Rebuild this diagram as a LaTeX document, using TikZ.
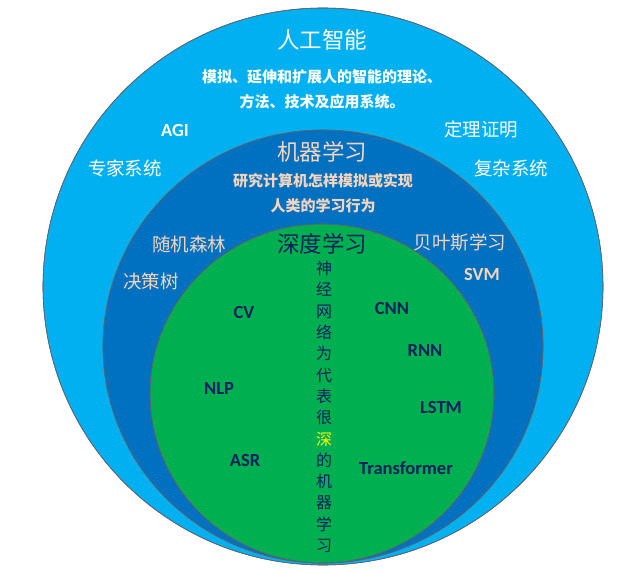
\documentclass[tikz,border=0pt]{standalone}
\usepackage{fontspec}
\setmainfont{Carlito}
\newfontfamily\cjk{Noto Sans CJK SC}
\definecolor{aicolor}{HTML}{00B0F0}
\definecolor{mlcolor}{HTML}{0070C0}
\definecolor{dlcolor}{HTML}{00B050}
\definecolor{mlink}{HTML}{F6D5BE}
\definecolor{dlink}{HTML}{002060}
\definecolor{rimcolor}{HTML}{5A6470}
\newcommand{\cjksize}[2]{\cjk\fontsize{#1}{#2}\selectfont}

\begin{document}
\begin{tikzpicture}[
    x=1pt, y=-1pt,
    disc/.style={draw=rimcolor, line width=0.6pt},
    title/.style={inner sep=0pt, font=\cjksize{22.5}{24}},
    desc/.style={inner sep=0pt, font=\cjksize{15}{17}\bfseries},
    item/.style={inner sep=0pt, font=\cjksize{18.5}{20}},
    term/.style={inner sep=0pt, font=\bfseries\fontsize{18.5}{20}\selectfont},
    aitext/.style={text=white},
    mltext/.style={text=mlink},
    dltext/.style={text=dlink}
]
\useasboundingbox[fill=white] (0,0) rectangle (633,570);

% Nested sets (outer to inner)
\fill[disc, fill=aicolor] (323,286.5) ellipse [x radius=280pt, y radius=278.5pt];
\fill[disc, fill=mlcolor] (323,346.5) ellipse [x radius=220pt, y radius=216.5pt];
\fill[disc, fill=dlcolor] (322,393.5) ellipse [x radius=172pt, y radius=169.5pt];
\draw[disc] (323,286.5) ellipse [x radius=280pt, y radius=278.5pt];
\draw[disc] (323,346.5) ellipse [x radius=220pt, y radius=216.5pt];
\draw[disc] (322,393.5) ellipse [x radius=172pt, y radius=169.5pt];

% Artificial intelligence
\node[title, aitext] (ai) at (322,40) {人工智能};
\node[desc, aitext] (aidesc1) at (322,77) {模拟、延伸和扩展人的智能的理论、};
\node[desc, aitext] (aidesc2) at (322,102) {方法、技术及应用系统。};
\node[term, aitext] (agi) at (175,130) {AGI};
\node[item, aitext] (theorem) at (481,129) {定理证明};
\node[item, aitext] (expert) at (125,168) {专家系统};
\node[item, aitext] (complex) at (511,168) {复杂系统};

% Machine learning
\node[title, mltext] (ml) at (322,152) {机器学习};
\node[desc, mltext] (mldesc1) at (323,181) {研究计算机怎样模拟或实现};
\node[desc, mltext] (mldesc2) at (323,206) {人类的学习行为};
\node[item, mltext] (forest) at (189,244) {随机森林};
\node[item, mltext] (tree) at (151,281) {决策树};
\node[item, mltext] (bayes) at (460,243) {贝叶斯学习};
\node[term, mltext] (svm) at (482,274) {SVM};

% Deep learning
\node[title, dltext] (dl) at (322,244) {深度学习};
\node[dltext, inner sep=0pt, align=center, font=\cjksize{16}{21.3}] (dlnote) at (324,407)
    {神\\经\\网\\络\\为\\代\\表\\很\\{\color{yellow}深}\\的\\机\\器\\学\\习};
\node[term, dltext] (cv) at (244,312) {CV};
\node[term, dltext] (nlp) at (219,389) {NLP};
\node[term, dltext] (asr) at (245,460) {ASR};
\node[term, dltext] (cnn) at (392,308) {CNN};
\node[term, dltext] (rnn) at (425,350) {RNN};
\node[term, dltext] (lstm) at (441,407) {LSTM};
\node[term, dltext] (transformer) at (406,468) {Transformer};

\end{tikzpicture}
\end{document}
